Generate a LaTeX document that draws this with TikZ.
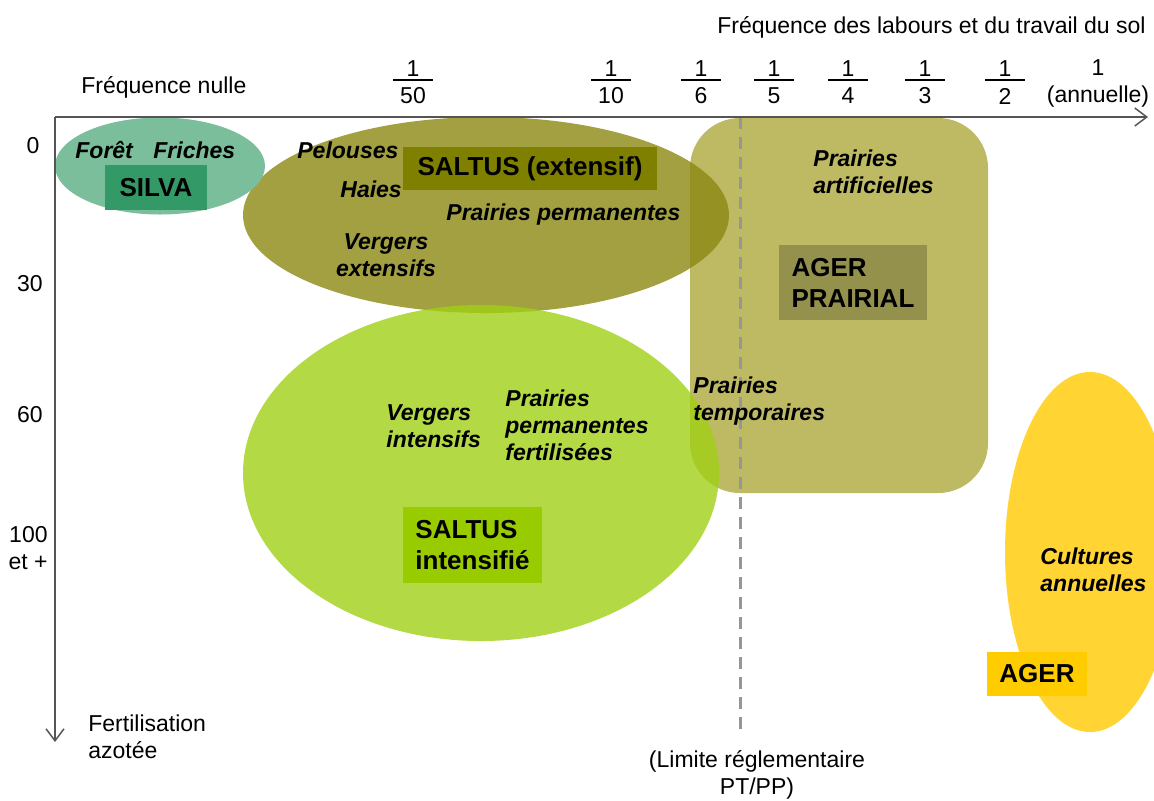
\documentclass[tikz,border=0pt]{standalone}
\usepackage{fontspec}
\setmainfont{Liberation Sans}
\usepackage{tikz}
\usetikzlibrary{shapes.geometric,arrows.meta}

\definecolor{silvafill}{RGB}{123,190,155}
\definecolor{silvabox}{RGB}{51,153,102}
\definecolor{saltefill}{RGB}{140,136,19}
\definecolor{saltebox}{RGB}{128,128,0}
\definecolor{saltifill}{RGB}{160,208,21}
\definecolor{saltibox}{RGB}{153,204,0}
\definecolor{agerpfill}{RGB}{173,169,60}
\definecolor{agerpbox}{RGB}{148,145,77}
\definecolor{agerfill}{RGB}{255,212,51}
\definecolor{agerbox}{RGB}{255,204,0}
\definecolor{axisgray}{RGB}{85,85,85}
\definecolor{limgray}{RGB}{150,150,150}

\begin{document}
\begin{tikzpicture}[x=0.5pt,y=-0.5pt,
  lab/.style={font=\fontsize{11.5}{13.5}\selectfont, inner sep=0pt},
  crop/.style={font=\fontsize{11.5}{13.5}\selectfont\bfseries\itshape, inner sep=0pt, align=left},
  tag/.style={font=\fontsize{13}{15.5}\selectfont\bfseries, inner sep=0pt, align=left},
  zone/.style={ellipse, inner sep=0pt, fill opacity=0.8},
  axis/.style={draw=axisgray, line width=0.75pt, -{Straight Barb[length=6pt,width=9pt]}}]
\clip (0,0) rectangle (1154,800);

\node[fill=agerpfill, fill opacity=0.8, rounded corners=25pt, inner sep=0pt,
  minimum width=149pt, minimum height=187.5pt] (agerp) at (839,305.5) {};
\node[zone, fill=saltefill, minimum width=243pt, minimum height=98pt] (saltE) at (486,215) {};
\node[zone, fill=saltifill, minimum width=238pt, minimum height=168pt] (saltI) at (481,473) {};
\node[ellipse, inner sep=0pt, fill=silvafill, minimum width=105pt, minimum height=48.5pt] (silva) at (160,166) {};
\node[ellipse, inner sep=0pt, fill=agerfill, minimum width=85pt, minimum height=180pt] (ager) at (1090,552) {};

\coordinate (limtop) at (740,117);
\coordinate (limbot) at (740,735);
\draw[limgray, line width=1.5pt, dash pattern=on 6pt off 4pt] (limtop) -- (limbot);

\coordinate (orig) at (55,117);
\coordinate (xend) at (1148,117);
\coordinate (yend) at (55,742);
\draw[axis] (orig) -- (xend);
\draw[axis] (orig) -- (yend);

\node[tag, fill=silvabox, minimum width=51pt, minimum height=22.5pt] (silvatag) at (156,187.5) {SILVA};
\node[tag, fill=saltebox, minimum width=127pt, minimum height=21.5pt] (saltEtag) at (530,168.5) {SALTUS (extensif)};
\node[tag, fill=agerpbox, minimum width=74pt, minimum height=37.5pt] (agerptag) at (853,282.5) {AGER\\PRAIRIAL};
\node[tag, fill=saltibox, minimum width=69.5pt, minimum height=38pt] (saltItag) at (472.5,545) {SALTUS\\intensifié};
\node[tag, fill=agerbox, minimum width=50pt, minimum height=22pt] (agertag) at (1037,674) {AGER};

\node[crop, anchor=west] (foret) at (75,150) {Forêt};
\node[crop, anchor=west] (friches) at (153,150) {Friches};
\node[crop, anchor=west] (pelouses) at (297,150) {Pelouses};
\node[crop, anchor=west] (haies) at (340,189) {Haies};
\node[crop, anchor=west] (prairiesperm) at (446,215) {Prairies permanentes};
\node[crop, align=center] (vergersext) at (386,255) {Vergers\\extensifs};
\node[crop, anchor=west] (prairiesart) at (813,172) {Prairies\\artificielles};
\node[crop, anchor=west] (prairiestemp) at (693,401) {Prairies\\temporaires};
\node[crop, anchor=west] (vergersint) at (386,426) {Vergers\\intensifs};
\node[crop, anchor=west] (prairiesfert) at (505,425) {Prairies\\permanentes\\fertilisées};
\node[crop, anchor=west] (cultures) at (1040,570) {Cultures\\annuelles};

\node[lab, anchor=east] (xtitle) at (1146,27) {Fréquence des labours et du travail du sol};
\node[lab, anchor=west] (freqnulle) at (81,87) {Fréquence nulle};
\foreach \x/\d in {413/50,611/10,701/6,774/5,848/4,925/3,1005/2}{
  \node[lab] (num\d) at (\x,69) {1};
  \node[lab] (den\d) at (\x,96) {\d};
  \draw[line width=1pt] (\x-20,80) -- (\x+20,80);
}
\node[lab, align=center] (annu) at (1098,83.5) {1\\(annuelle)};

\node[lab] (y0) at (33,146) {0};
\node[lab] (y30) at (30,284) {30};
\node[lab] (y60) at (30,415) {60};
\node[lab, anchor=east, align=right] (y100) at (48,548) {100\\et +};
\node[lab, anchor=west, align=left] (fertil) at (88,737) {Fertilisation\\azotée};
\node[lab, align=center] (limite) at (757,775) {(Limite réglementaire\\PT/PP)};
\end{tikzpicture}
\end{document}
